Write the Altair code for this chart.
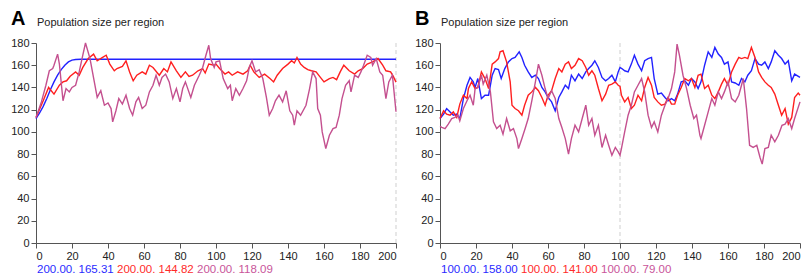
import altair as alt
import pandas as pd

FONT = "Liberation Sans"
X_TICKS = list(range(0, 201, 20))
Y_TICKS = list(range(0, 181, 20))

# ---- Panel A series (t, value) ----
A_BLUE = [(0, 112), (2, 117), (4, 123), (6, 130), (8, 138), (10, 145), (12, 151), (14, 156),
          (16, 160), (18, 163), (20, 164.6), (22, 165.1), (25, 165.31), (200, 165.31)]

A_RED = [(0, 113), (4, 128), (7, 140), (10, 134), (13, 142), (15, 145), (17, 146), (19, 150),
         (22, 154), (24, 151), (26, 158), (29, 166), (32, 170), (34, 164), (37, 167), (39, 169),
         (41, 161), (43.5, 155), (45, 157), (48, 159), (50, 164), (52, 154), (54, 146), (56, 151),
         (59, 154), (61, 152), (63, 160), (65, 158), (68.5, 151), (71, 157), (73, 154), (75, 163),
         (78, 155), (80.5, 149), (83, 154), (85, 150), (87, 151), (90, 155), (92.6, 157), (94, 153),
         (96, 161), (99, 160), (100, 161), (102, 157), (105, 152), (107, 154), (109, 151), (112, 154),
         (115, 152), (117.6, 155), (119, 160), (121, 154), (124, 149), (127, 152), (130, 148),
         (132, 145), (134, 151), (137, 157), (140, 161), (142, 164), (143.5, 162), (145, 167),
         (147, 161), (149, 158), (151, 156), (153, 155), (155.6, 154), (158, 149), (160, 145),
         (163, 148), (165, 149), (167, 147), (169, 154), (171, 160), (174, 155), (177, 152),
         (179, 155), (181.5, 157), (184, 161), (187, 163), (190, 166), (192.6, 160), (194.4, 155),
         (197, 154), (198.5, 150), (200, 144.82)]

A_PURPLE = [(0, 113), (3, 127), (5.5, 142), (7.4, 155), (9.3, 157), (10, 160), (12, 170), (13, 161),
            (15, 128), (16.7, 139), (18.5, 136), (20, 140), (22, 142), (24, 154), (26, 169),
            (27.5, 180), (30, 166), (32.4, 145), (34, 131), (36, 137), (38, 124), (40, 126),
            (41.7, 121), (42.6, 109), (44.4, 119), (46, 130), (48, 125), (50, 133), (52, 121),
            (53.7, 115), (55.5, 127), (57, 131), (59, 121), (61, 124), (63, 136), (65, 142),
            (66.7, 151), (68.5, 142), (70, 149), (72, 152), (74, 145), (76, 130), (78, 139),
            (80, 127), (81.5, 139), (83, 145), (86, 131), (88, 142), (90.7, 151), (92.6, 158),
            (94.4, 169), (96, 178), (97, 166), (99, 158), (100, 163), (102, 164), (104, 148),
            (106.5, 139), (108, 142), (109, 128), (111, 139), (113, 133), (115, 139), (117, 146),
            (118.5, 158), (120, 164), (122, 154), (124, 156), (126, 148), (128, 131), (129.6, 115),
            (131.5, 121), (133, 128), (135, 133), (137, 127), (139, 137), (141, 119), (142.6, 115),
            (143.5, 106), (145, 119), (147, 115), (150, 124), (152, 139), (153.7, 154), (155.6, 148),
            (156.5, 121), (158, 115), (159, 100), (161, 85), (163, 97), (165, 103), (166.7, 104),
            (168.5, 115), (170, 130), (172, 142), (174, 146), (175, 136), (177, 151), (179, 149),
            (180.5, 154), (182, 160), (184, 169), (186, 167), (187, 160), (189, 166), (191, 154),
            (192.6, 151), (194.4, 130), (196, 145), (198, 151), (200, 118.09)]

# ---- Panel B series (t, value) ----
B_BLUE = [(0, 112), (2, 116), (3.7, 121), (5.6, 118), (7.4, 115), (9.3, 116), (11, 112), (13, 130),
          (15, 142), (16.7, 149), (18.5, 145), (19.5, 140), (21, 148), (23, 130), (25, 133),
          (27, 133), (29, 151), (30.6, 157), (32.5, 156), (34, 148), (36, 157), (38, 163), (40, 166),
          (41.7, 167), (44, 172), (45.5, 167), (47, 160), (49, 154), (51, 149), (53, 151),
          (54.7, 148), (56.6, 140), (58.4, 136), (60, 131), (62, 127), (64, 119), (66, 131),
          (67.7, 136), (69.6, 142), (71.4, 139), (73, 151), (75, 146), (77, 152), (79, 148),
          (81, 154), (82.6, 157), (84.4, 160), (86, 164), (88, 158), (90, 149), (92, 146),
          (93.7, 148), (95.5, 151), (97.4, 145), (99, 154), (100, 158), (101, 157), (102.6, 155),
          (104.5, 154), (106.3, 161), (108, 169), (110, 161), (112, 155), (113.7, 164), (115.6, 166),
          (117.5, 167), (119, 148), (121, 134), (123, 135), (125, 131), (126.7, 128), (128.6, 130),
          (130.4, 128), (132, 134), (134, 145), (136, 146), (138, 142), (139.7, 148), (141.6, 145),
          (143.4, 139), (145, 145), (147, 160), (149, 172), (151, 167), (152.7, 176), (154.6, 170),
          (156.4, 167), (158, 161), (160, 163), (162, 145), (164, 144), (166, 142), (167.5, 148),
          (169.4, 145), (171, 151), (173, 155), (175, 166), (177, 161), (178.7, 160), (180.5, 163),
          (182.4, 157), (184, 163), (186, 173), (188, 169), (189.8, 166), (191.7, 161), (193.5, 164),
          (195.4, 146), (197, 152), (200, 149)]

B_RED = [(0, 112), (2, 119), (3.7, 116), (5.6, 115), (7.4, 118), (9.3, 113), (11, 125), (13, 133),
         (15, 130), (15.8, 139), (17.6, 145), (19.5, 139), (21, 140), (23, 154), (25, 148), (27, 139),
         (29, 161), (30.6, 163), (32.5, 166), (33.4, 172), (35, 173), (37, 163), (39, 145), (40, 124),
         (41.7, 121), (43.6, 119), (45.5, 115), (47, 124), (49, 133), (51, 136), (53, 140),
         (54.7, 137), (56.6, 131), (58.4, 124), (60, 133), (62, 137), (64, 148), (66, 157),
         (67.7, 154), (69.6, 161), (71.4, 163), (73, 157), (75, 160), (77, 166), (79, 164), (81, 158),
         (82.6, 151), (84.4, 155), (86, 151), (88, 139), (90, 128), (92, 134), (93.7, 142),
         (95.5, 143), (97.4, 145), (99, 142), (100, 141), (100.8, 133), (102.6, 127), (104.5, 131),
         (106.3, 121), (108, 124), (110, 133), (112, 128), (113.7, 140), (115.6, 149), (117.5, 142),
         (119, 131), (121, 127), (123, 124), (125, 125), (126.7, 131), (128.6, 125), (130.4, 125),
         (132, 133), (134, 140), (136, 148), (138, 146), (139.7, 148), (141.6, 140), (143.4, 151),
         (145, 152), (147, 139), (149, 142), (151, 133), (152.7, 130), (154.6, 136), (156.4, 143),
         (158, 148), (160, 142), (162, 154), (164, 161), (166, 167), (167.5, 166), (169.4, 167),
         (171, 166), (173, 176), (175, 167), (177, 154), (178.7, 149), (180.5, 145), (182.4, 142),
         (184, 140), (186, 134), (188, 124), (189.8, 115), (191.7, 121), (193.5, 107), (195.4, 113),
         (197, 131), (199, 135), (200, 133)]

B_PURPLE = [(0, 105), (1, 104), (2.8, 103), (4.6, 107), (6.5, 112), (8.3, 113), (10, 115), (11, 110),
            (13, 121), (15, 128), (16.7, 133), (18.5, 124), (19.5, 139), (21, 140), (23, 151),
            (24, 143), (26, 151), (28, 136), (29.7, 109), (31.5, 103), (33.4, 106), (35, 98),
            (37, 112), (39, 101), (40.8, 103), (42.7, 94), (43.6, 85), (45.5, 94), (47.3, 103),
            (49, 112), (51, 128), (53, 145), (54.7, 161), (56.6, 151), (58.4, 139), (60, 130),
            (62, 137), (64, 130), (66, 112), (67.7, 104), (69.6, 94), (71.4, 80), (73, 94), (75, 106),
            (77, 100), (79, 112), (81, 124), (82.6, 106), (84.4, 112), (86, 97), (88, 106), (90, 86),
            (92, 97), (93.7, 88), (95.5, 79), (97.4, 86), (99, 82), (100, 79), (100.8, 85),
            (102.6, 100), (104.5, 115), (106.3, 124), (108, 136), (110, 142), (112, 148),
            (113.7, 136), (115.6, 115), (117.5, 104), (119, 109), (121, 100), (123, 115), (125, 124),
            (126.7, 130), (128.6, 139), (130.4, 154), (131.7, 179), (133, 169), (135, 151), (137, 139),
            (139, 124), (141, 112), (142.5, 115), (144.4, 97), (145, 94), (147, 106), (149, 118),
            (151, 130), (152.7, 124), (154.6, 136), (156.4, 130), (158, 136), (160, 145), (162, 130),
            (164, 127), (166, 133), (167.5, 142), (168.5, 148), (170.3, 121), (172, 88), (174, 86),
            (176, 88), (177.8, 77), (179, 71), (180.5, 85), (182.4, 86), (184, 97), (186, 91),
            (188, 97), (190, 106), (191.7, 107), (193.5, 112), (195.4, 103), (197, 112), (200, 127)]

A_LABELS = ["200.00. 165.31", "200.00. 144.82", "200.00. 118.09"]
B_LABELS = ["100.00. 158.00", "100.00. 141.00", "100.00. 79.00"]
MARKER_A = 200
MARKER_B = 100

LINE_COLORS = ["#2222ff", "#ff1f1f", "#c4508f"]
TEXT_COLORS = ["#2a2aff", "#ff2a2a", "#c9559a"]

W, H = 360, 200

xscale = alt.Scale(domain=[0, 200], nice=False, zero=True)
yscale = alt.Scale(domain=[0, 180], nice=False)
xaxis = alt.Axis(values=X_TICKS, title=None, grid=False, format="d")
yaxis = alt.Axis(values=Y_TICKS, title=None, grid=False, format="d")


def panel(letter, series, marker, labels):
    one = pd.DataFrame({"k": [0]})
    layers = []
    rule_df = pd.DataFrame({"t": [marker]})
    layers.append(
        alt.Chart(rule_df).mark_rule(color="#cfcfcf", strokeDash=[4, 3], strokeWidth=1).encode(
            x=alt.X("t:Q", scale=xscale, axis=xaxis)
        )
    )
    for pairs, col in zip(series, LINE_COLORS):
        df = pd.DataFrame(pairs, columns=["t", "v"])
        layers.append(
            alt.Chart(df).mark_line(color=col, strokeWidth=1.4).encode(
                x=alt.X("t:Q", scale=xscale, axis=xaxis),
                y=alt.Y("v:Q", scale=yscale, axis=yaxis),
            )
        )
    layers.append(
        alt.Chart(one).mark_text(text=letter, font=FONT, fontSize=20, fontWeight="bold",
                                 align="left", baseline="alphabetic", color="#000").encode(
            x=alt.value(-25), y=alt.value(-18))
    )
    layers.append(
        alt.Chart(one).mark_text(text="Population size per region", font=FONT, fontSize=11,
                                 align="left", baseline="alphabetic", color="#222").encode(
            x=alt.value(1), y=alt.value(-17))
    )
    for i, (lab, col) in enumerate(zip(labels, TEXT_COLORS)):
        layers.append(
            alt.Chart(one).mark_text(text=lab, font=FONT, fontSize=11.5, align="left",
                                     baseline="alphabetic", color=col).encode(
                x=alt.value(1 + 80 * i), y=alt.value(H + 30))
        )
    return alt.layer(*layers).properties(width=W, height=H)


chart = alt.hconcat(
    panel("A", [A_BLUE, A_RED, A_PURPLE], MARKER_A, A_LABELS),
    panel("B", [B_BLUE, B_RED, B_PURPLE], MARKER_B, B_LABELS),
    spacing=15,
).properties(
    padding={"left": 2, "top": 1, "right": 0, "bottom": 0}
).configure_view(stroke=None).configure_axis(
    domainColor="#555", tickColor="#555", labelColor="#222", labelFont=FONT,
    labelFontSize=11, tickSize=5, labelPadding=2
)

chart.save("out.html", embed_options={"renderer": "svg", "actions": False})
